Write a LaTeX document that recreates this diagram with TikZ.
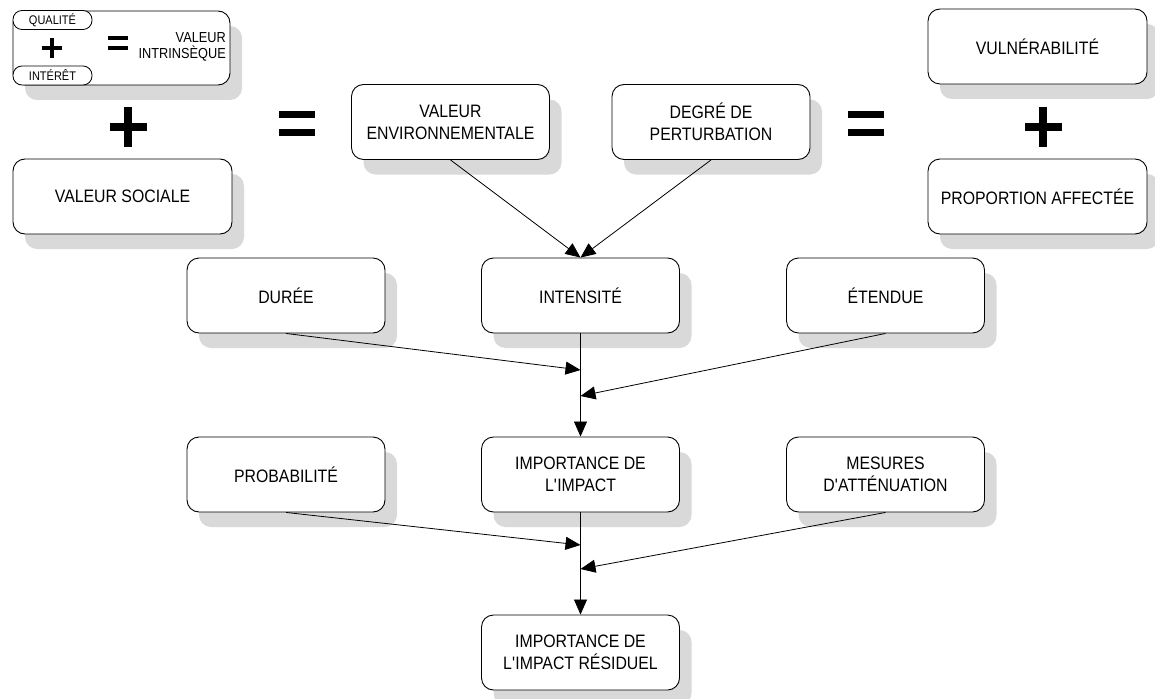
\documentclass[tikz,border=0pt]{standalone}
\usepackage{fontspec}
\setmainfont{Liberation Sans}[FakeStretch=0.88]
\usetikzlibrary{arrows.meta,shadows}
\tikzset{blok/.style={draw,line width=0.9pt,fill=white,rounded corners=12pt,
  minimum width=198pt,minimum height=75pt,inner sep=0pt,align=center,
  font=\fontsize{18}{22}\selectfont,
  drop shadow={shadow xshift=12pt,shadow yshift=-15pt,fill=gray!30,opacity=1}},
  wideblok/.style={blok,minimum width=219pt},
  pill/.style={draw,line width=0.8pt,fill=white,rounded corners=9pt,
  minimum width=79pt,minimum height=19pt,inner sep=0pt,font=\fontsize{12.5}{14}\selectfont},
  fleche/.style={-{Triangle[length=15pt,width=13pt]},line width=0.8pt},
  bigplus/.pic={\fill (-18.5,-4) rectangle (18.5,4); \fill (-4,-19.5) rectangle (4,19.5);},
  bigequal/.pic={\fill (-18,-12.5) rectangle (18,-5.5); \fill (-18,5.5) rectangle (18,12.5);}}

\begin{document}
\begin{tikzpicture}[x=1pt,y=-1pt]
  \useasboundingbox (0,0) rectangle (1155,698);
  % valeur intrinseque
  \node[blok,minimum width=217pt,minimum height=74pt] (intr) at (121.5,48) {};
  \node[pill] (qual) at (52.5,20) {QUALITÉ};
  \node[pill] (inter) at (52.5,75.5) {INTÉRÊT};
  \pic[scale=0.52] at (52,48) {bigplus};
  \pic[scale=0.56] at (118,43) {bigequal};
  \node[anchor=east,align=right,inner sep=0pt,font=\fontsize{14.5}{16}\selectfont] (vint) at (226,47)
    {VALEUR\\INTRINSÈQUE};
  \pic at (128,127) {bigplus};
  \node[wideblok] (soc) at (122.5,196.5) {VALEUR SOCIALE};
  \pic at (297,123.5) {bigequal};
  \node[blok] (env) at (450.5,122) {VALEUR\\ENVIRONNEMENTALE};
  \node[blok] (deg) at (711,122) {DEGRÉ DE\\PERTURBATION};
  \pic at (866,123.5) {bigequal};
  \node[wideblok] (vul) at (1037.5,46.5) {VULNÉRABILITÉ};
  \pic at (1043,127) {bigplus};
  \node[wideblok] (prop) at (1037.5,196.5) {PROPORTION AFFECTÉE};
  % criteres
  \node[blok] (dur) at (286,295.5) {DURÉE};
  \node[blok] (int) at (580.5,295.5) {INTENSITÉ};
  \node[blok] (ete) at (885.5,295.5) {ÉTENDUE};
  \node[blok] (prob) at (286,474.5) {PROBABILITÉ};
  \node[blok] (imp) at (580.5,474.5) {IMPORTANCE DE\\L\textquotesingle IMPACT};
  \node[blok] (mes) at (885.5,474.5) {MESURES\\D\textquotesingle ATTÉNUATION};
  \node[blok] (res) at (580.5,652.5) {IMPORTANCE DE\\L\textquotesingle IMPACT RÉSIDUEL};
  \coordinate (j1) at (580.5,370);
  \coordinate (j2) at (580.5,396);
  \coordinate (j3) at (580.5,545);
  \coordinate (j4) at (580.5,569);
  \draw[fleche] (env.south) -- (int.north);
  \draw[fleche] (deg.south) -- (int.north);
  \draw[fleche] (dur.south) -- (j1);
  \draw[fleche] (ete.south) -- (j2);
  \draw[fleche] (int.south) -- (imp.north);
  \draw[fleche] (prob.south) -- (j3);
  \draw[fleche] (mes.south) -- (j4);
  \draw[fleche] (imp.south) -- (res.north);
\end{tikzpicture}
\end{document}
